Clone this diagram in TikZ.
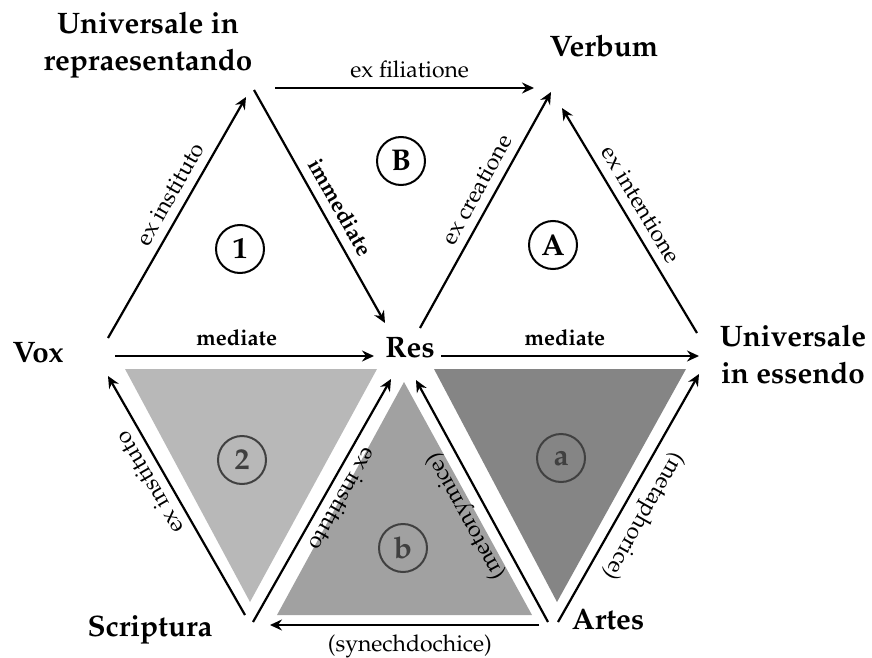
\documentclass[tikz,border=0pt]{standalone}
\usepackage[T1]{fontenc}
\renewcommand{\rmdefault}{ppl}
\usetikzlibrary{arrows.meta, positioning}

\definecolor{shadetwo}{gray}{0.72}
\definecolor{shadeb}{gray}{0.63}
\definecolor{shadea}{gray}{0.52}

\begin{document}
\begin{tikzpicture}[
    x=0.5pt, y=-0.5pt,
    every node/.style={font=\fontsize{11.5}{14}\selectfont},
    vertex/.style={font=\fontsize{14.8}{18.5}\selectfont\bfseries, align=center},
    arrow/.style={-{Stealth[length=6pt, width=5.5pt, inset=2pt]}, line width=1.1pt},
    backarrow/.style={{Stealth[length=6pt, width=5.5pt, inset=2pt]}-, line width=1.1pt},
    edgelabel/.style={font=\fontsize{11.5}{14}\selectfont, sloped, above=1pt},
    boldlabel/.style={edgelabel, font=\fontsize{11}{14}\selectfont\bfseries},
    numcirc/.style={circle, draw, line width=1pt, minimum size=24pt, inner sep=0pt,
        font=\fontsize{15}{18}\selectfont\bfseries},
    numcircgray/.style={numcirc, draw=black!75, text=black!75}
]

\useasboundingbox (0,0) rectangle (872,658);

% ============ SHADED TRIANGLES ============
\fill[shadetwo] (125,369) -- (377,369) -- (250,602) -- cycle;
\fill[shadeb] (404,382) -- (532,615) -- (277,615) -- cycle;
\fill[shadea] (434,369) -- (686,369) -- (557,602) -- cycle;

% ============ TERMS ============
\node[vertex] (ur) at (148,45) {Universale in\\repraesentando};
\node[vertex] (verbum) at (604,46) {Verbum};
\node[vertex] (vox) at (38,353) {Vox};
\node[vertex] (res) at (410,348) {Res};
\node[vertex] (ue) at (793,354) {Universale\\in essendo};
\node[vertex] (scriptura) at (150,630) {Scriptura};
\node[vertex] (artes) at (608,619) {Artes};

% Circled numbers
\node[numcirc] (c1) at (240,249) {1};
\node[numcirc] (cB) at (401,161) {B};
\node[numcirc] (cA) at (553,245) {A};
\node[numcircgray] (c2) at (242,460) {2};
\node[numcircgray] (cb) at (403,548) {b};
\node[numcircgray] (ca) at (561,458) {a};

% ============ ARROW END POINTS ============
\coordinate (vox1) at (108,338);  \coordinate (ur1) at (246,97);
\coordinate (ur2) at (254,90);    \coordinate (res1) at (385,323);
\coordinate (ur3) at (275,88);    \coordinate (verb1) at (534,88);
\coordinate (res2) at (420,328);  \coordinate (verb2) at (551,92);
\coordinate (ue1) at (697,333);   \coordinate (verb3) at (562,108);
\coordinate (vox2) at (115,356);  \coordinate (res3) at (374,356);
\coordinate (res4) at (441,356);  \coordinate (ue2) at (699,356);
\coordinate (scr1) at (245,615);  \coordinate (vox3) at (108,376);
\coordinate (scr2) at (253,622);  \coordinate (res5) at (391,379);
\coordinate (art1) at (548,622);  \coordinate (res6) at (416,380);
\coordinate (art2) at (558,622);  \coordinate (ue3) at (699,374);
\coordinate (art3) at (539,625);  \coordinate (scr3) at (270,625);

% ============ UPPER HALF ============
\draw[arrow] (vox1) -- node[edgelabel, pos=0.56] {ex instituto} (ur1);
\draw[arrow] (ur2) -- node[boldlabel, pos=0.54] {immediate} (res1);
\draw[arrow] (ur3) -- node[edgelabel, pos=0.52] {ex filiatione} (verb1);
\draw[arrow] (res2) -- node[edgelabel, pos=0.55] {ex creatione} (verb2);
\draw[arrow] (ue1) -- node[edgelabel, pos=0.53] {ex intentione} (verb3);
\draw[arrow] (vox2) -- node[boldlabel, pos=0.47] {mediate} (res3);
\draw[arrow] (res4) -- node[boldlabel, pos=0.48] {mediate} (ue2);

% ============ LOWER HALF ============
\draw[arrow] (scr1) -- node[edgelabel, allow upside down, pos=0.59] {ex instituto} (vox3);
\draw[backarrow] (res5) -- node[edgelabel, allow upside down, pos=0.46] {ex instituto} (scr2);
\draw[arrow] (art1) -- node[edgelabel, allow upside down, pos=0.48] {(metonymice)} (res6);
\draw[backarrow] (ue3) -- node[edgelabel, allow upside down, pos=0.53] {(metaphorice)} (art2);
\draw[arrow] (art3) -- node[below=1pt, pos=0.48] {(synechdochice)} (scr3);

\end{tikzpicture}
\end{document}
